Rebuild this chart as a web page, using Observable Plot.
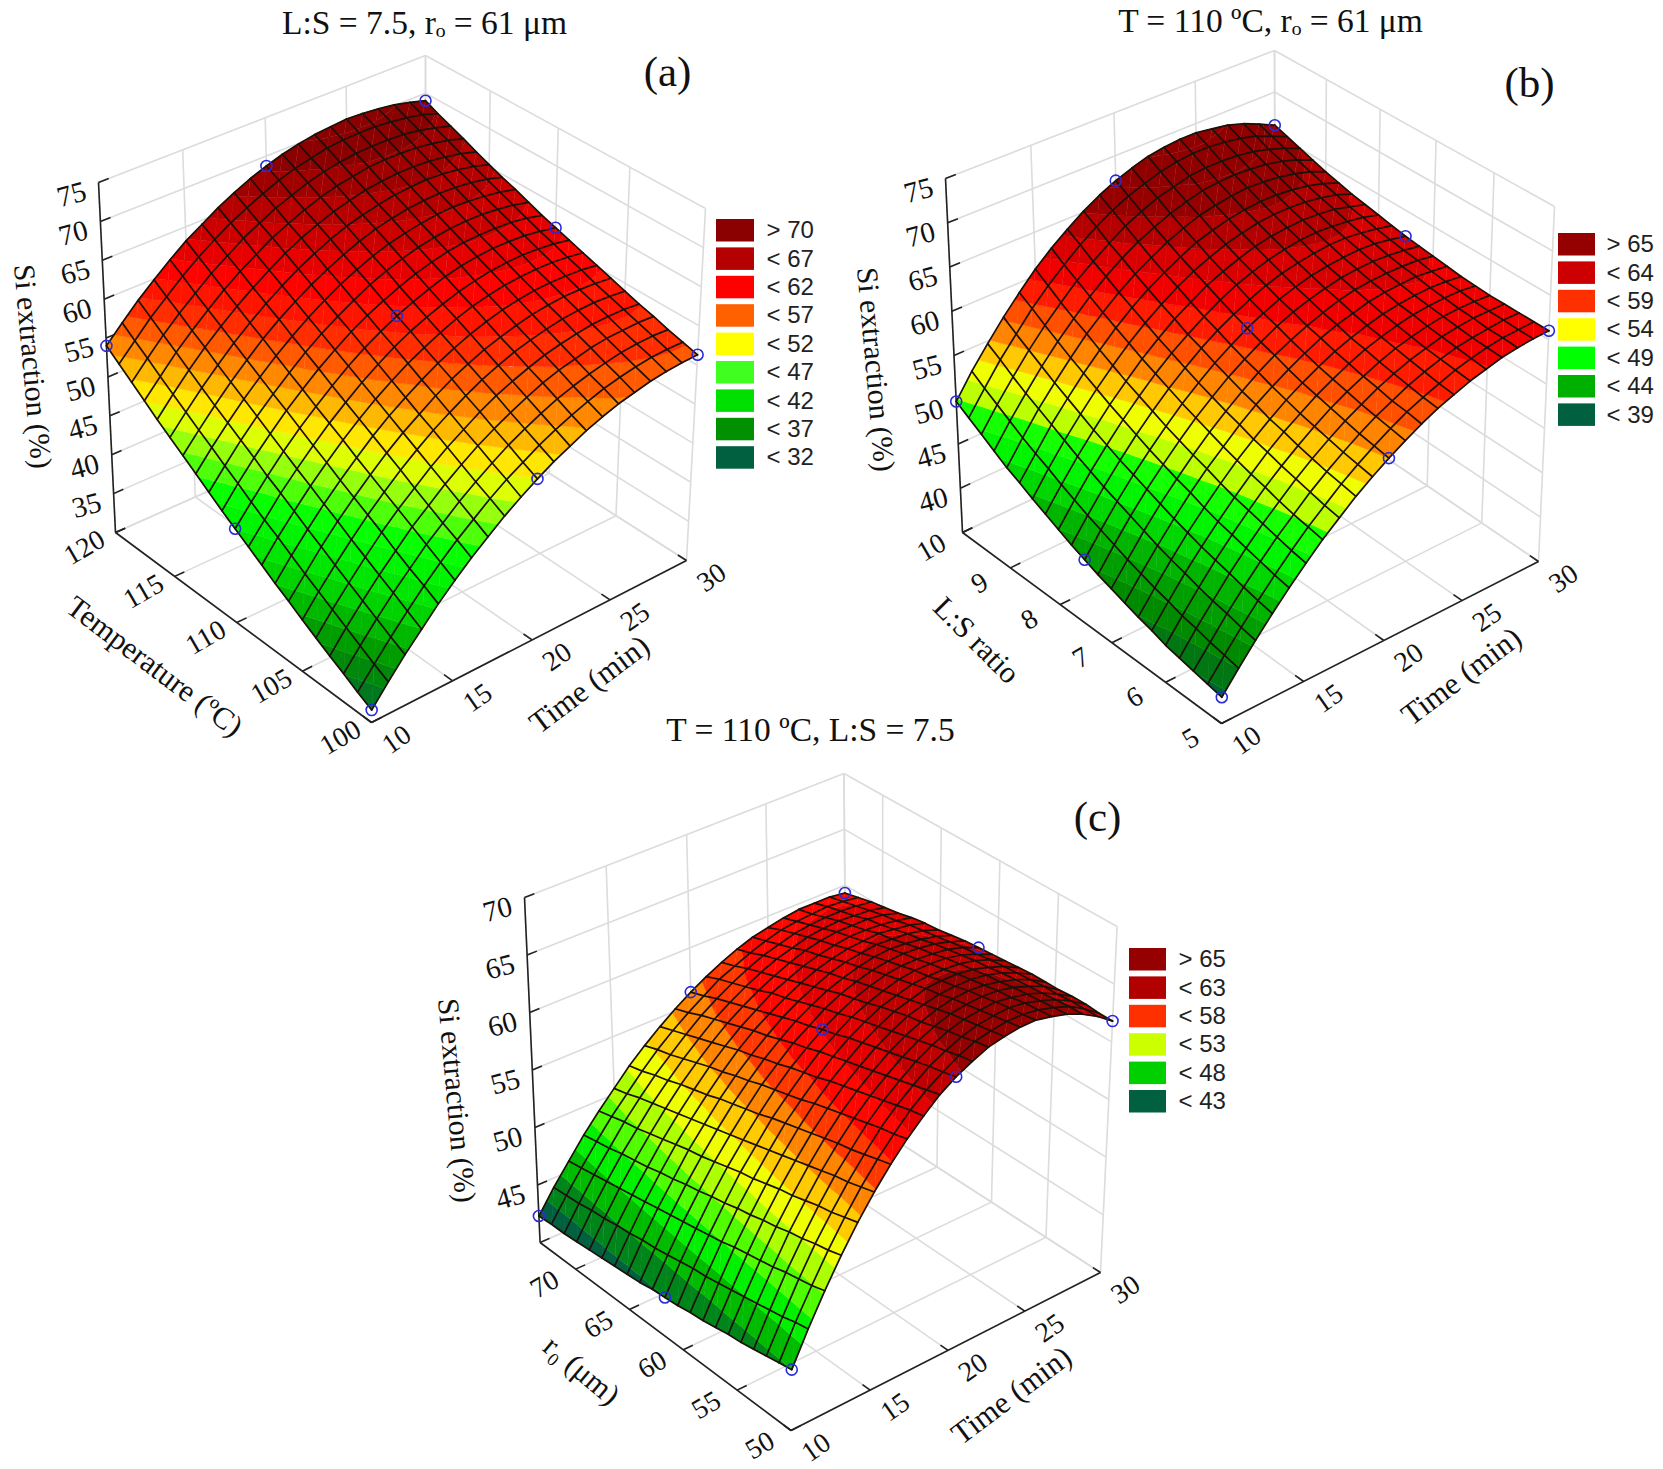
<!DOCTYPE html>
<html><head><meta charset="utf-8">
<style>html,body{margin:0;padding:0;background:#fff}</style>
<script src="https://cdn.jsdelivr.net/npm/d3@7"></script>
<script src="https://cdn.jsdelivr.net/npm/@observablehq/plot@0.6"></script>
</head><body><div id="chart"></div>
<script>
// The remaining mesh nodes are a smooth estimate between those nine, not individual readings.
const timeTicks=[10,15,20,25,30];
// rows: second factor, low to high; columns: time 10 to 30 min, 1 min apart
const surfaceA=[
[31.5,33.9,36.2,38.3,40.4,42.3,44.1,45.7,47.3,48.7,50.0,51.2,52.2,53.2,54.0,54.7,55.2,55.7,56.0,56.2,56.3],
[32.4,34.8,37.1,39.3,41.4,43.3,45.1,46.7,48.3,49.7,50.9,52.1,53.1,54.0,54.8,55.5,56.0,56.4,56.7,56.8,56.8],
[33.4,35.8,38.1,40.3,42.3,44.3,46.0,47.7,49.2,50.6,51.9,53.0,54.0,54.9,55.6,56.2,56.7,57.1,57.3,57.4,57.3],
[34.3,36.8,39.1,41.3,43.3,45.3,47.0,48.7,50.2,51.6,52.8,53.9,54.9,55.8,56.5,57.0,57.5,57.8,57.9,58.0,57.9],
[35.3,37.8,40.1,42.3,44.4,46.3,48.0,49.7,51.2,52.5,53.8,54.9,55.8,56.6,57.3,57.8,58.2,58.5,58.6,58.6,58.4],
[36.3,38.8,41.1,43.3,45.4,47.3,49.1,50.7,52.2,53.5,54.7,55.8,56.7,57.5,58.1,58.6,59.0,59.2,59.3,59.2,59.0],
[37.4,39.8,42.2,44.4,46.4,48.3,50.1,51.7,53.1,54.5,55.7,56.7,57.6,58.3,58.9,59.4,59.7,59.9,59.9,59.8,59.6],
[38.4,40.9,43.2,45.4,47.4,49.3,51.1,52.7,54.1,55.4,56.6,57.6,58.5,59.2,59.8,60.2,60.5,60.6,60.6,60.5,60.2],
[39.5,42.0,44.3,46.5,48.5,50.4,52.1,53.7,55.1,56.4,57.5,58.5,59.4,60.1,60.6,61.0,61.2,61.3,61.3,61.1,60.8],
[40.6,43.0,45.4,47.5,49.5,51.4,53.1,54.7,56.1,57.4,58.5,59.4,60.2,60.9,61.4,61.8,62.0,62.1,62.0,61.8,61.4],
[41.7,44.1,46.4,48.6,50.6,52.4,54.1,55.7,57.1,58.3,59.4,60.3,61.1,61.8,62.3,62.6,62.8,62.8,62.7,62.4,62.0],
[42.8,45.3,47.6,49.7,51.7,53.5,55.2,56.7,58.1,59.3,60.3,61.2,62.0,62.6,63.1,63.4,63.5,63.5,63.4,63.1,62.6],
[44.0,46.4,48.7,50.8,52.7,54.5,56.2,57.7,59.0,60.2,61.3,62.2,62.9,63.5,63.9,64.2,64.3,64.3,64.1,63.8,63.3],
[45.2,47.6,49.8,51.9,53.8,55.6,57.2,58.7,60.0,61.2,62.2,63.1,63.8,64.3,64.7,65.0,65.1,65.0,64.8,64.5,64.0],
[46.4,48.7,50.9,53.0,54.9,56.7,58.3,59.7,61.0,62.1,63.1,64.0,64.7,65.2,65.6,65.8,65.9,65.8,65.6,65.2,64.6],
[47.6,49.9,52.1,54.1,56.0,57.7,59.3,60.7,62.0,63.1,64.1,64.9,65.5,66.0,66.4,66.6,66.7,66.6,66.3,65.9,65.3],
[48.8,51.1,53.3,55.3,57.1,58.8,60.3,61.7,63.0,64.1,65.0,65.8,66.4,66.9,67.2,67.4,67.4,67.3,67.0,66.6,66.0],
[50.1,52.3,54.5,56.4,58.2,59.9,61.4,62.7,64.0,65.0,65.9,66.7,67.3,67.7,68.1,68.2,68.2,68.1,67.8,67.4,66.8],
[51.4,53.6,55.7,57.6,59.3,61.0,62.4,63.8,64.9,66.0,66.8,67.6,68.2,68.6,68.9,69.0,69.0,68.9,68.6,68.1,67.5],
[52.7,54.8,56.9,58.7,60.5,62.1,63.5,64.8,65.9,66.9,67.8,68.5,69.0,69.5,69.7,69.8,69.8,69.6,69.3,68.9,68.2],
[54.0,56.1,58.1,59.9,61.6,63.2,64.5,65.8,66.9,67.9,68.7,69.4,69.9,70.3,70.5,70.7,70.6,70.4,70.1,69.6,69.0]];
const surfaceB=[
[37.8,40.0,42.1,44.1,46.0,47.8,49.5,51.0,52.5,53.8,55.0,56.1,57.1,58.0,58.7,59.4,59.9,60.4,60.7,60.9,61.0],
[38.1,40.3,42.4,44.4,46.3,48.1,49.8,51.3,52.8,54.1,55.3,56.4,57.4,58.2,58.9,59.6,60.1,60.5,60.8,60.9,61.0],
[38.4,40.6,42.8,44.8,46.7,48.5,50.1,51.7,53.1,54.4,55.6,56.7,57.6,58.5,59.2,59.8,60.3,60.6,60.8,61.0,61.0],
[38.7,41.0,43.1,45.2,47.1,48.9,50.5,52.1,53.5,54.8,56.0,57.0,58.0,58.8,59.5,60.0,60.5,60.8,61.0,61.0,61.0],
[39.0,41.3,43.5,45.6,47.5,49.3,51.0,52.5,53.9,55.2,56.4,57.4,58.3,59.1,59.8,60.3,60.7,61.0,61.1,61.1,61.0],
[39.5,41.8,44.0,46.0,47.9,49.7,51.4,53.0,54.4,55.6,56.8,57.8,58.7,59.5,60.1,60.6,61.0,61.2,61.3,61.3,61.1],
[39.9,42.2,44.4,46.5,48.4,50.2,51.9,53.4,54.8,56.1,57.2,58.2,59.1,59.8,60.4,60.9,61.2,61.4,61.5,61.4,61.2],
[40.4,42.7,44.9,47.0,49.0,50.8,52.4,54.0,55.4,56.6,57.7,58.7,59.6,60.3,60.8,61.3,61.6,61.7,61.8,61.6,61.4],
[40.9,43.2,45.5,47.6,49.5,51.3,53.0,54.5,55.9,57.2,58.3,59.2,60.0,60.7,61.3,61.7,61.9,62.0,62.0,61.9,61.6],
[41.4,43.8,46.1,48.2,50.1,51.9,53.6,55.1,56.5,57.7,58.8,59.8,60.6,61.2,61.7,62.1,62.3,62.4,62.3,62.1,61.8],
[42.0,44.4,46.7,48.8,50.7,52.5,54.2,55.7,57.1,58.3,59.4,60.3,61.1,61.7,62.2,62.5,62.7,62.8,62.7,62.4,62.0],
[42.6,45.0,47.3,49.4,51.4,53.2,54.9,56.4,57.8,59.0,60.0,60.9,61.7,62.3,62.7,63.0,63.2,63.2,63.0,62.7,62.3],
[43.3,45.7,48.0,50.1,52.1,53.9,55.6,57.1,58.4,59.6,60.7,61.6,62.3,62.9,63.3,63.6,63.7,63.6,63.4,63.1,62.6],
[44.0,46.4,48.7,50.8,52.8,54.6,56.3,57.8,59.2,60.3,61.4,62.2,62.9,63.5,63.9,64.1,64.2,64.1,63.9,63.4,62.9],
[44.7,47.2,49.5,51.6,53.6,55.4,57.1,58.6,59.9,61.1,62.1,62.9,63.6,64.1,64.5,64.7,64.7,64.6,64.3,63.9,63.2],
[45.5,47.9,50.3,52.4,54.4,56.2,57.9,59.4,60.7,61.8,62.8,63.7,64.3,64.8,65.1,65.3,65.3,65.1,64.8,64.3,63.6],
[46.2,48.7,51.1,53.2,55.2,57.1,58.7,60.2,61.5,62.6,63.6,64.4,65.1,65.5,65.8,66.0,65.9,65.7,65.3,64.8,64.0],
[47.1,49.6,51.9,54.1,56.1,57.9,59.6,61.1,62.4,63.5,64.4,65.2,65.8,66.3,66.5,66.6,66.5,66.3,65.9,65.3,64.5],
[48.0,50.5,52.8,55.0,57.0,58.8,60.5,61.9,63.2,64.4,65.3,66.1,66.6,67.1,67.3,67.3,67.2,66.9,66.4,65.8,65.0],
[48.9,51.4,53.8,55.9,58.0,59.8,61.4,62.9,64.2,65.3,66.2,66.9,67.5,67.9,68.1,68.1,67.9,67.6,67.1,66.3,65.5],
[49.8,52.4,54.7,56.9,58.9,60.8,62.4,63.8,65.1,66.2,67.1,67.8,68.4,68.7,68.9,68.9,68.6,68.3,67.7,66.9,66.0]];
const surfaceC=[
[45.0,47.7,50.2,52.5,54.6,56.5,58.2,59.7,61.0,62.2,63.1,63.8,64.4,64.7,64.9,64.9,64.6,64.2,63.6,62.8,61.8],
[44.8,47.5,49.9,52.2,54.3,56.2,57.9,59.4,60.8,61.9,62.8,63.6,64.2,64.5,64.7,64.7,64.5,64.1,63.6,62.8,61.8],
[44.6,47.2,49.7,52.0,54.0,55.9,57.6,59.2,60.5,61.6,62.6,63.3,63.9,64.3,64.5,64.6,64.4,64.0,63.5,62.8,61.9],
[44.4,47.0,49.5,51.7,53.8,55.7,57.3,58.9,60.2,61.3,62.3,63.1,63.7,64.1,64.3,64.4,64.2,63.9,63.4,62.7,61.9],
[44.2,46.8,49.2,51.5,53.5,55.4,57.1,58.6,59.9,61.0,62.0,62.8,63.4,63.9,64.1,64.2,64.1,63.8,63.3,62.7,61.8],
[44.1,46.6,49.0,51.2,53.2,55.1,56.8,58.3,59.6,60.7,61.7,62.5,63.1,63.6,63.9,64.0,63.9,63.6,63.2,62.6,61.8],
[43.9,46.4,48.8,51.0,53.0,54.8,56.5,58.0,59.3,60.4,61.4,62.2,62.9,63.3,63.6,63.7,63.7,63.5,63.1,62.5,61.8],
[43.7,46.2,48.6,50.7,52.7,54.5,56.2,57.7,59.0,60.1,61.1,61.9,62.6,63.0,63.4,63.5,63.5,63.3,62.9,62.4,61.7],
[43.6,46.0,48.3,50.5,52.4,54.2,55.9,57.3,58.6,59.8,60.8,61.6,62.3,62.7,63.1,63.2,63.2,63.1,62.8,62.3,61.6],
[43.4,45.9,48.1,50.2,52.2,53.9,55.6,57.0,58.3,59.5,60.4,61.3,61.9,62.4,62.8,63.0,63.0,62.9,62.6,62.1,61.5],
[43.3,45.7,47.9,50.0,51.9,53.6,55.2,56.7,58.0,59.1,60.1,60.9,61.6,62.1,62.5,62.7,62.7,62.6,62.4,62.0,61.4],
[43.2,45.5,47.7,49.7,51.6,53.3,54.9,56.4,57.6,58.8,59.7,60.6,61.3,61.8,62.2,62.4,62.5,62.4,62.2,61.8,61.3],
[43.0,45.3,47.5,49.5,51.3,53.0,54.6,56.0,57.3,58.4,59.4,60.2,60.9,61.4,61.8,62.1,62.2,62.1,61.9,61.6,61.1],
[42.9,45.2,47.3,49.2,51.1,52.7,54.3,55.7,56.9,58.0,59.0,59.8,60.5,61.1,61.5,61.7,61.9,61.8,61.7,61.4,60.9],
[42.8,45.0,47.1,49.0,50.8,52.4,53.9,55.3,56.6,57.7,58.6,59.4,60.1,60.7,61.1,61.4,61.5,61.6,61.4,61.2,60.8],
[42.7,44.9,46.9,48.7,50.5,52.1,53.6,55.0,56.2,57.3,58.2,59.1,59.7,60.3,60.7,61.0,61.2,61.2,61.1,60.9,60.6],
[42.6,44.7,46.7,48.5,50.2,51.8,53.3,54.6,55.8,56.9,57.8,58.6,59.3,59.9,60.4,60.7,60.9,60.9,60.9,60.7,60.3],
[42.5,44.6,46.5,48.3,49.9,51.5,52.9,54.2,55.4,56.5,57.4,58.2,58.9,59.5,59.9,60.3,60.5,60.6,60.5,60.4,60.1],
[42.4,44.4,46.3,48.0,49.7,51.2,52.6,53.8,55.0,56.1,57.0,57.8,58.5,59.1,59.5,59.9,60.1,60.2,60.2,60.1,59.9],
[42.4,44.3,46.1,47.8,49.4,50.8,52.2,53.5,54.6,55.6,56.5,57.4,58.0,58.6,59.1,59.5,59.7,59.8,59.9,59.8,59.6],
[42.3,44.2,45.9,47.6,49.1,50.5,51.9,53.1,54.2,55.2,56.1,56.9,57.6,58.2,58.7,59.0,59.3,59.5,59.5,59.5,59.3]];
const panels=[
{surface:surfaceA,sExt:[100,120],sTicks:[100,105,110,115,120],zExt:[30,75],zTicks:[30,35,40,45,50,55,60,65,70,75],zLabels:[35,40,45,50,55,60,65,70,75],ku:1.04,kv:1.11,
 shade:[[30,"#006040"],[35,"#009000"],[40,"#00e000"],[44,"#00ff00"],[47,"#80ff10"],[50,"#ffff00"],[55,"#ff7000"],[58,"#ff2000"],[61,"#ff0000"],[64.5,"#c80000"],[67,"#a80000"],[69,"#8b0000"]],
 colors:["#8b0000","#b40000","#ff0000","#ff6000","#ffff00","#40ff20","#00e000","#009000","#006040"],
 legend:["> 70","< 67","< 62","< 57","< 52","< 47","< 42","< 37","< 32"],
 F:[371,722],R:[686,560],L:[115,532],B:[425,394],FT:[376,349],RT:[705,208],LT:[98,182],BT:[425,55],
 lx:[716,754,766],ly:219,sTitle:"Temperature (ºC)",sPos:[154,666,37],sip:[32,366],tp:[589,684],title:"L:S = 7.5, rₒ = 61 μm",titlePos:[424,23],tag:"(a)",tagPos:[667,72]},
{surface:surfaceB,sExt:[5,10],sTicks:[5,6,7,8,9,10],zExt:[35,75],zTicks:[35,40,45,50,55,60,65,70,75],zLabels:[40,45,50,55,60,65,70,75],ku:1.05,kv:1.1,
 shade:[[37,"#006040"],[40,"#008000"],[44,"#00b000"],[47,"#00f000"],[49,"#00ff00"],[50.5,"#b0ff00"],[53,"#ffff00"],[55,"#ffa000"],[58,"#ff4000"],[60,"#ff0000"],[63,"#d00000"],[65,"#a00000"],[66.5,"#900000"]],
 colors:["#950000","#cc0000","#ff3000","#ffff00","#00ff00","#00b000","#006040"],
 legend:["> 65","< 64","< 59","< 54","< 49","< 44","< 39"],
 F:[1221,723],R:[1538,561],L:[962,532],B:[1275,382],FT:[1225,348],RT:[1554,206],LT:[945,178],BT:[1274,50],
 lx:[1558,1595,1606],ly:233,sTitle:"L:S ratio",sPos:[976,640,45],sip:[875,369],tp:[1461,676],title:"T = 110 ºC, rₒ = 61 μm",titlePos:[1270,21],tag:"(b)",tagPos:[1529,83]},
{surface:surfaceC,sExt:[50,73.3],sTicks:[50,55,60,65,70],zExt:[40,70],zTicks:[40,45,50,55,60,65,70],zLabels:[45,50,55,60,65,70],ku:1.03,kv:1.0,
 shade:[[43,"#006040"],[45,"#00a000"],[47.5,"#00f000"],[49.5,"#60ff00"],[51.5,"#d0ff00"],[53,"#ffff00"],[54.4,"#ffc000"],[56.3,"#ff7000"],[58,"#ff2000"],[59.5,"#ff0000"],[61,"#e00000"],[62.5,"#c00000"],[64,"#950000"]],
 colors:["#950000","#b00000","#ff3000","#ccff00","#00d000","#006040"],
 legend:["> 65","< 63","< 58","< 53","< 48","< 43"],
 F:[790.5,1430],R:[1100,1272],L:[539.6,1242],B:[846,1108],FT:[795,1065],RT:[1116.6,926],LT:[524,897],BT:[843.5,773],
 lx:[1129,1166,1178],ly:948,sTitle:"r₀ (μm)",sPos:[581,1370,40],sip:[456,1100],tp:[1011,1395],title:"T = 110 ºC, L:S = 7.5",titlePos:[810,730],tag:"(c)",tagPos:[1097,817]}
];
const lerp=(a,b,f)=>[a[0]+(b[0]-a[0])*f,a[1]+(b[1]-a[1])*f];
const warp=(t,k)=>t*k/(1+t*(k-1));
function proj(p,u0,v0,w){
 const u=warp(u0,p.ku),v=warp(v0,p.kv);
 const bot=lerp(lerp(p.F,p.R,u),lerp(p.L,p.B,u),v), top=lerp(lerp(p.FT,p.RT,u),lerp(p.LT,p.BT,u),v);
 return lerp(bot,top,w);
}
const uOf=t=>(t-10)/20;
const vOf=(p,s)=>(s-p.sExt[0])/(p.sExt[1]-p.sExt[0]);
const wOf=(p,z)=>(z-p.zExt[0])/(p.zExt[1]-p.zExt[0]);
const STEP=5/3;
function clip(poly,lo,hi){
 const cut=(pts,inside,level)=>{const out=[];pts.forEach((a,i)=>{const b=pts[(i+1)%pts.length];
  if(inside(a))out.push(a);
  if(inside(a)!==inside(b)){const f=(level-a[2])/(b[2]-a[2]);out.push([a[0]+(b[0]-a[0])*f,a[1]+(b[1]-a[1])*f,level]);}});return out;};
 let r=cut(poly,a=>a[2]>=lo,lo); if(r.length)r=cut(r,a=>a[2]<=hi,hi); return r;
}
const fills=[],meshLines=[],dots=[],gridLinks=[],axisLinks=[],swatches=[],legendText=[],tickT=[],tickS=[],tickZ=[],siT=[],timeT=[],sT=[],titles=[],tags=[];
let id=0,lid=0;
panels.forEach(p=>{
 const col=d3.scaleLinear().domain(p.shade.map(d=>d[0])).range(p.shade.map(d=>d[1])).clamp(true);
 const n=p.surface.length-1;
 const node=(i,j)=>{const z=p.surface[i][j];const q=proj(p,j/n,i/n,wOf(p,z));return [q[0],q[1],z];};
 for(let i=n-1;i>=0;i--)for(let j=n-1;j>=0;j--){
  const a=node(i,j),b=node(i,j+1),c=node(i+1,j+1),d=node(i+1,j);
  [[c,d,a],[c,a,b]].forEach(tri=>{
   const zs=tri.map(t=>t[2]);
   for(let k=Math.floor(d3.min(zs)/STEP);k<=Math.floor(d3.max(zs)/STEP);k++){
    const poly=clip(tri,k*STEP,(k+1)*STEP);
    if(poly.length>2){const f=col((k+.5)*STEP);id++;poly.forEach(q=>fills.push({id,x:q[0],y:q[1],f}));}
   }
  });
 }
 for(let i=0;i<=n;i++){lid++;for(let j=0;j<=n;j++){const q=node(i,j);meshLines.push({id:lid,x:q[0],y:q[1]});}}
 for(let j=0;j<=n;j++){lid++;for(let i=0;i<=n;i++){const q=node(i,j);meshLines.push({id:lid,x:q[0],y:q[1]});}}
 [0,n/2,n].forEach(i=>[0,n/2,n].forEach(j=>{const q=node(i,j);dots.push({x:q[0],y:q[1]});}));
 const link=(arr,A,B)=>arr.push({x1:A[0],y1:A[1],x2:B[0],y2:B[1]});
 const tv=timeTicks.map(uOf), sv=[...new Set([...p.sTicks,p.sExt[1]])].map(s=>vOf(p,s));
 p.zTicks.forEach(z=>{const w=wOf(p,z);
  link(gridLinks,proj(p,0,1,w),proj(p,1,1,w));link(gridLinks,proj(p,1,1,w),proj(p,1,0,w));
  link(axisLinks,proj(p,0,1,w),proj(p,.03,1,w));});
 tv.forEach(u=>{link(gridLinks,proj(p,u,1,0),proj(p,u,1,1));link(gridLinks,proj(p,u,0,0),proj(p,u,1,0));link(axisLinks,proj(p,u,0,0),proj(p,u,.03,0));});
 sv.forEach(v=>{link(gridLinks,proj(p,1,v,0),proj(p,1,v,1));link(gridLinks,proj(p,0,v,0),proj(p,1,v,0));});
 p.sTicks.forEach(s=>link(axisLinks,proj(p,0,vOf(p,s),0),proj(p,.03,vOf(p,s),0)));
 link(axisLinks,proj(p,0,1,0),proj(p,0,1,1));link(axisLinks,proj(p,0,0,0),proj(p,1,0,0));link(axisLinks,proj(p,0,0,0),proj(p,0,1,0));
 timeTicks.forEach(t=>{const q=proj(p,uOf(t),0,0);tickT.push({x:q[0],y:q[1],t:String(t)});});
 p.sTicks.forEach(s=>{const q=proj(p,0,vOf(p,s),0);tickS.push({x:q[0],y:q[1],t:String(s)});});
 p.zLabels.forEach(z=>{const q=proj(p,0,1,wOf(p,z));tickZ.push({x:q[0],y:q[1],t:String(z)});});
 siT.push({x:p.sip[0],y:p.sip[1],t:"Si extraction (%)"});
 timeT.push({x:p.tp[0],y:p.tp[1],t:"Time (min)"});
 sT.push({x:p.sPos[0],y:p.sPos[1],t:p.sTitle,r:p.sPos[2]});
 titles.push({x:p.titlePos[0],y:p.titlePos[1],t:p.title});
 tags.push({x:p.tagPos[0],y:p.tagPos[1],t:p.tag});
 p.legend.forEach((t,i)=>{const c=p.colors[i];
  swatches.push({x1:p.lx[0],x2:p.lx[1],y1:p.ly+i*28.4,y2:p.ly+i*28.4+22.5,f:c});
  legendText.push({x:p.lx[2],y:p.ly+i*28.4+11,t});});
});
const serif="Liberation Serif", sans="Liberation Sans";
const chart=Plot.plot({width:1663,height:1469,margin:0,
 x:{domain:[0,1663],range:[0,1663],axis:null},y:{domain:[0,1469],range:[0,1469],axis:null},color:{type:"identity"},
 marks:[
  Plot.link(gridLinks,{x1:"x1",y1:"y1",x2:"x2",y2:"y2",stroke:"#dcdcdc",strokeWidth:1.6}),
  Plot.link(axisLinks,{x1:"x1",y1:"y1",x2:"x2",y2:"y2",stroke:"#222",strokeWidth:1.6}),
  Plot.line(fills,{x:"x",y:"y",z:"id",fill:"f",stroke:"f",strokeWidth:.6}),
  Plot.line(meshLines,{x:"x",y:"y",z:"id",stroke:"#1c1008",strokeWidth:1.7}),
  Plot.dot(dots,{x:"x",y:"y",r:5.5,stroke:"#2a2ad8",strokeWidth:1.6,fill:"none"}),
  Plot.text(tickT,{x:"x",y:"y",text:"t",dx:25,dy:17,rotate:-35,fontSize:28,fontFamily:serif,fill:"#111"}),
  Plot.text(tickS,{x:"x",y:"y",text:"t",dx:-31,dy:15,rotate:-30,fontSize:28,fontFamily:serif,fill:"#111"}),
  Plot.text(tickZ,{x:"x",y:"y",text:"t",dx:-27,dy:12,rotate:-15,fontSize:29,fontFamily:serif,fill:"#111"}),
  Plot.text(siT,{x:"x",y:"y",text:"t",rotate:85,fontSize:30,fontFamily:serif,fill:"#111"}),
  Plot.text(timeT,{x:"x",y:"y",text:"t",rotate:-37,fontSize:31,fontFamily:serif,fill:"#111"}),
  Plot.text(sT,{x:"x",y:"y",text:"t",rotate:"r",fontSize:30.5,fontFamily:serif,fill:"#111"}),
  Plot.text(titles,{x:"x",y:"y",text:"t",fontSize:33.5,fontFamily:serif,fill:"#111"}),
  Plot.text(tags,{x:"x",y:"y",text:"t",fontSize:43,fontFamily:serif,fill:"#111"}),
  Plot.rect(swatches,{x1:"x1",x2:"x2",y1:"y1",y2:"y2",fill:"f"}),
  Plot.text(legendText,{x:"x",y:"y",text:"t",textAnchor:"start",fontSize:24,fontFamily:sans,fill:"#222"})
 ]});
document.getElementById("chart").append(chart);
</script></body></html>
